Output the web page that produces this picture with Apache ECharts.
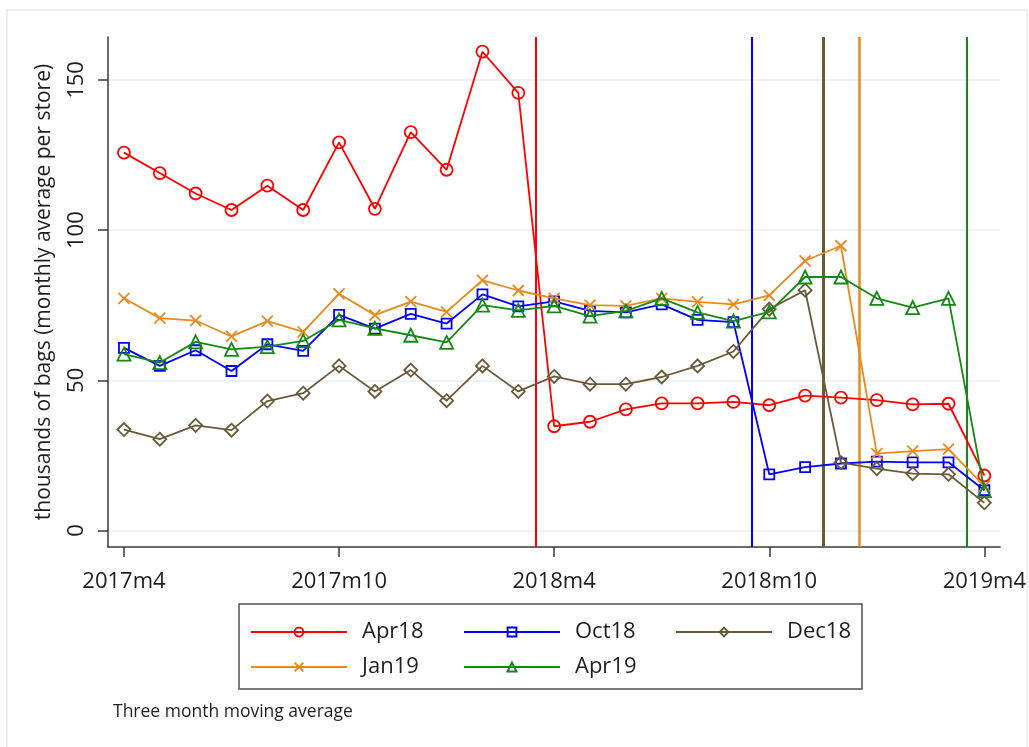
<!DOCTYPE html>
<html>
<head>
<meta charset="utf-8">
<script src="https://cdn.jsdelivr.net/npm/echarts@6/dist/echarts.min.js"></script>
<style>
  html, body { margin: 0; padding: 0; background: #fff; }
  #chart { width: 1029px; height: 747px; }
</style>
</head>
<body>
<div id="chart"></div>
<script>
// Months since 2017m4 (0 = 2017m4 ... 24 = 2019m4)
const monthIndex = [0,1,2,3,4,5,6,7,8,9,10,11,12,13,14,15,16,17,18,19,20,21,22,23,24];
const tickValues = [0, 6, 12, 18, 24];
const tickLabels = ['2017m4', '2017m10', '2018m4', '2018m10', '2019m4'];
const yTicks = [0, 50, 100, 150];

// Three month moving average, thousands of bags per store
const apr18 = [125.8,119,112.2,106.7,114.8,106.7,129.2,107.1,132.6,120.1,159.4,145.7,34.7,36.2,40.3,42.3,42.3,42.8,41.7,44.9,44.2,43.4,42,42.2,18.3];
const oct18 = [60.8,54.8,60,53.1,62,59.8,71.8,67.2,72.1,68.9,78.6,74.6,76.3,73.1,72.6,75.3,70.1,69.4,18.7,21.1,22.3,22.9,22.7,22.7,13.4];
const dec18 = [33.6,30.4,35,33.4,43.1,45.7,54.8,46.3,53.4,43.2,54.8,46.3,51.3,48.7,48.7,51.1,54.8,59.6,73.7,80,22.6,20.6,18.9,18.7,9.2];
const jan19 = [77.3,70.7,69.9,64.6,69.7,66.1,78.8,71.7,76.2,72.8,83.3,79.9,77.3,75,74.8,77.3,76.1,75.3,78.3,89.8,94.8,25.6,26.4,27.1,14.8];
const apr19 = [58.7,55.9,62.8,60.3,61.2,63.1,70.1,67.3,65,62.6,75,73.3,74.8,71.4,73.1,77.3,72.6,69.7,72.8,84.4,84.4,77.3,74.2,77.3,13.3];

// Group names and the month (half-way point) where each group's change applies
const groupNames = ['Apr18', 'Oct18', 'Dec18', 'Jan19', 'Apr19'];
const cutoffs = [11.5, 17.5, 19.5, 20.5, 23.5];

const FONT = '"Open Sans", "Noto Sans", sans-serif';
const TEXT = '#1e1e1e';

const styles = [
  { color: '#ff0000', symbol: 'circle', size: 12, vw: 2 },
  { color: '#0000ff', symbol: 'rect', size: 10, vw: 2 },
  { color: '#6b5a38', symbol: 'diamond', size: 13, vw: 3 },
  { color: '#ea8a1e', symbol: 'path://M0,0L10,10M0,10L10,0', size: 11, vw: 2.5 },
  { color: '#138a13', symbol: 'triangle', size: 13, vw: 2 }
];
const values = [apr18, oct18, dec18, jan19, apr19];

const series = values.map((vals, i) => {
  const st = styles[i];
  return {
    name: groupNames[i],
    type: 'line',
    data: monthIndex.map((m, k) => [m, vals[k]]),
    symbol: st.symbol,
    symbolSize: st.size,
    showAllSymbol: true,
    color: st.color,
    lineStyle: { color: st.color, width: 1.8 },
    itemStyle: { color: 'rgba(255,255,255,0)', borderColor: st.color, borderWidth: 1.8 },
    emphasis: { disabled: true },
    z: 3 + i,
    markLine: {
      silent: true,
      symbol: 'none',
      label: { show: false },
      animation: false,
      z: 1,
      lineStyle: { color: st.color, width: st.vw, type: 'solid' },
      data: [{ xAxis: cutoffs[i] }]
    }
  };
});

// One legend block per group, laid out in a 3 + 2 grid
const legendPos = [
  { left: 250, top: 619 }, { left: 463, top: 619 }, { left: 675, top: 619 },
  { left: 250, top: 654 }, { left: 463, top: 654 }
];
const legends = groupNames.map((n, i) => ({
  data: [n],
  left: legendPos[i].left,
  top: legendPos[i].top,
  orient: 'horizontal',
  itemWidth: 96,
  itemHeight: 11,
  selectedMode: false,
  padding: 0,
  textStyle: { fontFamily: FONT, fontSize: 22, color: TEXT, lineHeight: 26, padding: [0, 0, 0, 10] }
}));

const chart = echarts.init(document.getElementById('chart'), null, { renderer: 'canvas' });
chart.setOption({
  animation: false,
  backgroundColor: '#ffffff',
  grid: { left: 108, right: 27, top: 37, bottom: 200, containLabel: false },
  legend: legends,
  xAxis: {
    type: 'value',
    min: -0.445,
    max: 24.44,
    axisLine: { show: true, onZero: false, lineStyle: { color: '#3a3a3a', width: 1.5 } },
    axisTick: { show: true, length: 10, customValues: tickValues, lineStyle: { color: '#3a3a3a', width: 1.5 } },
    axisLabel: {
      customValues: tickValues,
      formatter: v => tickLabels[tickValues.indexOf(v)] || '',
      fontFamily: FONT, fontSize: 22, color: TEXT, margin: 24
    },
    splitLine: { show: false }
  },
  yAxis: {
    type: 'value',
    min: -5.5,
    max: 164.3,
    name: 'thousands of bags (monthly average per store)',
    nameLocation: 'middle',
    nameGap: 53,
    nameTextStyle: { fontFamily: FONT, fontSize: 21, color: TEXT },
    axisLine: { show: true, onZero: false, lineStyle: { color: '#3a3a3a', width: 1.5 } },
    axisTick: { show: true, length: 10, customValues: yTicks, lineStyle: { color: '#3a3a3a', width: 1.5 } },
    axisLabel: {
      customValues: yTicks,
      rotate: 90,
      fontFamily: FONT, fontSize: 22, color: TEXT, margin: 20
    },
    splitLine: { show: true, lineStyle: { color: '#e9eff3', width: 1.5 } }
  },
  graphic: [
    {
      type: 'rect', z: 0, silent: true,
      shape: { x: 7, y: 10, width: 1020, height: 760 },
      style: { fill: 'none', stroke: '#e3ecef', lineWidth: 1.5 }
    },
    {
      type: 'rect', z: 0, silent: true,
      shape: { x: 239, y: 604, width: 623, height: 85 },
      style: { fill: 'none', stroke: '#505050', lineWidth: 1.5 }
    },
    {
      type: 'text', silent: true, left: 113, top: 703,
      style: { text: 'Three month moving average', fontFamily: FONT, fontSize: 17.5, fill: TEXT }
    }
  ],
  series: series
});
</script>
</body>
</html>
